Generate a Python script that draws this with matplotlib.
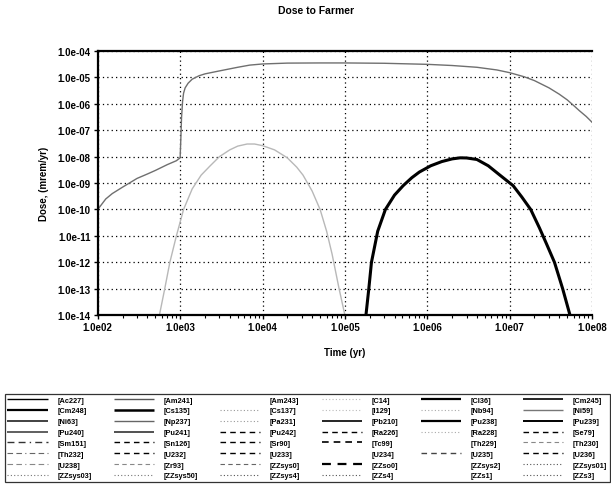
import matplotlib
matplotlib.use("Agg")
import matplotlib.pyplot as plt
from matplotlib.lines import Line2D

# ---------------- data ----------------
total_time = [1e2, 1.25e2, 1.5e2, 2e2, 3e2, 4e2, 5e2, 7e2, 9e2, 1.0e3, 1.02e3, 1.04e3, 1.07e3,
              1.1e3, 1.15e3, 1.25e3, 1.4e3, 1.7e3, 2e3, 3e3, 5e3, 7e3, 1e4, 2e4, 5e4, 1e5,
              3e5, 1e6, 2e6, 4e6, 7e6, 1e7, 1.5e7, 2e7, 3e7, 4e7, 5e7, 6e7, 7e7, 8.5e7, 1e8]
total_dose = [1e-10, 2.5e-10, 4e-10, 7e-10, 1.5e-9, 2.2e-9, 3e-9, 5e-9, 7e-9, 9e-9, 5e-8, 3e-7, 1.2e-6,
              2.5e-6, 4e-6, 6e-6, 8.5e-6, 1.15e-5, 1.35e-5, 1.75e-5, 2.4e-5, 2.9e-5, 3.2e-5, 3.45e-5, 3.5e-5, 3.5e-5,
              3.4e-5, 3.1e-5, 2.8e-5, 2.4e-5, 1.9e-5, 1.5e-5, 1.05e-5, 7.5e-6, 4e-6, 2.3e-6, 1.4e-6, 8.5e-7, 5.5e-7, 3.3e-7, 2e-7]

early_time = [5.6e2, 6.5e2, 7.5e2, 9e2, 1.1e3, 1.4e3, 1.8e3, 2.3e3, 3e3, 4e3, 5e3, 6.5e3, 8e3,
              1e4, 1.4e4, 2e4, 2.6e4, 3.1e4, 4e4, 5e4, 6e4, 7e4, 8.5e4, 1e5]
early_dose = [1e-14, 1e-13, 1e-12, 1e-11, 1e-10, 6e-10, 2e-9, 4.4e-9, 1e-8, 1.8e-8, 2.5e-8, 3e-8, 3e-8,
              2.6e-8, 1.8e-8, 9e-9, 4e-9, 2e-9, 5e-10, 1e-10, 1.5e-11, 2e-12, 1e-13, 1e-14]

late_time = [1.8e5, 1.95e5, 2.1e5, 2.5e5, 3.1e5, 4e5, 5.1e5, 6.5e5, 8e5, 1.1e6, 1.5e6, 2e6, 2.5e6,
             3e6, 4e6, 5.5e6, 7.6e6, 1.1e7, 1.4e7, 1.8e7, 2.3e7, 2.8e7, 3.5e7, 4.4e7, 5.4e7]
late_dose = [1e-14, 1e-13, 1e-12, 1.5e-11, 1e-10, 3.5e-10, 8e-10, 1.6e-9, 2.6e-9, 4.5e-9, 6.5e-9, 8.2e-9, 9e-9,
             8.9e-9, 7.8e-9, 4.5e-9, 2e-9, 8e-10, 3e-10, 1e-10, 2e-11, 5e-12, 1e-12, 1e-13, 1e-14]

x_ticks = [1e2, 1e3, 1e4, 1e5, 1e6, 1e7, 1e8]
x_ticklabels = ["1.0e02", "1.0e03", "1.0e04", "1.0e05", "1.0e06", "1.0e07", "1.0e08"]
y_ticks = [1e-4, 1e-5, 1e-6, 1e-7, 1e-8, 1e-9, 1e-10, 1e-11, 1e-12, 1e-13, 1e-14]
y_ticklabels = ["1.0e-04", "1.0e-05", "1.0e-06", "1.0e-07", "1.0e-08", "1.0e-09",
                "1.0e-10", "1.0e-11", "1.0e-12", "1.0e-13", "1.0e-14"]

legend_labels = [
    "[Ac227]", "[Am241]", "[Am243]", "[C14]", "[Cl36]", "[Cm245]",
    "[Cm248]", "[Cs135]", "[Cs137]", "[I129]", "[Nb94]", "[Ni59]",
    "[Ni63]", "[Np237]", "[Pa231]", "[Pb210]", "[Pu238]", "[Pu239]",
    "[Pu240]", "[Pu241]", "[Pu242]", "[Ra226]", "[Ra228]", "[Se79]",
    "[Sm151]", "[Sn126]", "[Sr90]", "[Tc99]", "[Th229]", "[Th230]",
    "[Th232]", "[U232]", "[U233]", "[U234]", "[U235]", "[U236]",
    "[U238]", "[Zr93]", "[ZZsys0]", "[ZZso0]", "[ZZsys2]", "[ZZsys01]",
    "[ZZsys03]", "[ZZsys50]", "[ZZsys4]", "[ZZs4]", "[ZZs1]", "[ZZs3]",
]

# legend line styles (row-major, 8 rows x 6 columns): (color, width, linestyle)
S = (0, ())
D = (0, (5, 3, 5, 3, 1, 3))
DD = (0, (4, 3))
DT = (0, (1, 2))
legend_styles = [
    ("black", 1.0, S), ("#555555", 1.0, S), ("#ffffff", 1.0, S), ("#bbbbbb", 0.8, DT), ("black", 1.6, S), ("black", 1.2, S),
    ("black", 1.6, S), ("black", 1.8, S), ("#999999", 0.8, DT), ("#bbbbbb", 0.8, DT), ("#aaaaaa", 0.8, DT), ("#777777", 1.0, S),
    ("#333333", 1.3, S), ("#666666", 1.0, S), ("#999999", 0.8, DT), ("black", 1.2, S), ("black", 1.6, S), ("black", 1.4, S),
    ("#444444", 1.2, S), ("#333333", 1.2, S), ("black", 1.0, DD), ("black", 1.0, DD), ("#aaaaaa", 0.8, DT), ("black", 1.0, DD),
    ("#333333", 1.0, D), ("black", 1.0, DD), ("black", 1.0, DD), ("black", 1.2, DD), ("#ffffff", 1.0, S), ("#888888", 0.8, DD),
    ("#666666", 0.8, D), ("black", 1.0, DD), ("black", 1.0, DD), ("#ffffff", 1.0, S), ("#444444", 1.0, DD), ("black", 1.0, DD),
    ("#888888", 0.8, D), ("#888888", 0.8, DD), ("#666666", 0.8, DD), ("black", 1.6, DD), ("#ffffff", 1.0, S), ("#555555", 0.8, DT),
    ("#777777", 0.8, DT), ("#777777", 0.8, DT), ("#555555", 0.8, DT), ("#555555", 0.8, DT), ("#ffffff", 1.0, S), ("#555555", 0.8, DT),
]

# ---------------- figure ----------------
plt.rcParams['font.family'] = ['Liberation Sans', 'DejaVu Sans']
fig = plt.figure(figsize=(6.11, 4.85), dpi=100)
ax = fig.add_axes([0.160, 0.348, 0.809, 0.545])

ax.plot(total_time, total_dose, color="#6f6f6f", lw=1.0)
ax.plot(early_time, early_dose, color="#b8b8b8", lw=1.0)
ax.plot(late_time, late_dose, color="black", lw=2.2)

ax.set_xscale("log")
ax.set_yscale("log")
ax.set_xlim(1e2, 1e8)
ax.set_ylim(1e-14, 1e-4)
ax.set_xticks(x_ticks)
ax.set_xticklabels(x_ticklabels, fontsize=7, fontweight="bold")
ax.set_yticks(y_ticks)
ax.set_yticklabels(y_ticklabels, fontsize=7, fontweight="bold")
ax.tick_params(axis="both", which="major", length=3, width=1.0, pad=2)
ax.tick_params(axis="both", which="minor", length=2, width=0.8)
ax.grid(True, which="major", color="black", linestyle=(0, (1, 2.5)), linewidth=0.9)

for side in ("top", "left", "bottom"):
    ax.spines[side].set_linewidth(1.6)
ax.spines["right"].set_visible(False)

ax.set_xlabel("Time (yr)", fontsize=7, fontweight="bold", labelpad=11)
ax.set_ylabel("Dose, (mrem/yr)", fontsize=7, fontweight="bold", labelpad=6)
fig.text(0.517, 0.988, "Dose to Farmer", ha="center", va="top", fontsize=7.5, fontweight="bold")

# legend (row-major reading order -> column-major fill)
handles = [Line2D([], [], color=c, lw=w, linestyle=ls) for (c, w, ls) in legend_styles]
nrow, ncol = 8, 6
order = [r * ncol + c for c in range(ncol) for r in range(nrow)]
leg = fig.legend([handles[i] for i in order], [legend_labels[i] for i in order],
                 ncol=ncol, loc="lower left", bbox_to_anchor=(0.008, 0.004, 0.99, 0.19),
                 mode="expand", fontsize=5.3, handlelength=5.5, handletextpad=1.3,
                 labelspacing=0.5, borderpad=0.35, borderaxespad=0, columnspacing=1.0,
                 frameon=True, fancybox=False, edgecolor="black")
leg.get_frame().set_linewidth(0.9)
for t in leg.get_texts():
    t.set_fontweight("bold")

fig.savefig("out.png", dpi=100)
